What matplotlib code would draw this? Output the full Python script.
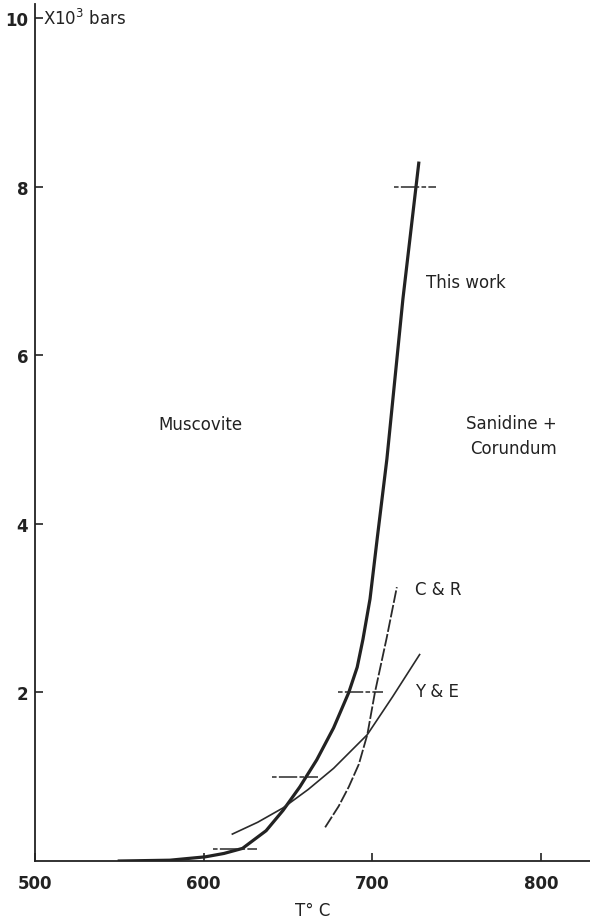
import numpy as np
import matplotlib
matplotlib.use("Agg")
import matplotlib.pyplot as plt

plt.rcParams['font.family'] = ['DejaVu Sans']

# curve "This work" (T in deg C, P in 10^3 bars)
this_T = [549, 580, 601, 612, 623, 637, 647, 657, 667, 677, 686, 691, 694.4, 698.6, 703, 708.6, 718.1, 727.6]
this_P = [0.0, 0.01, 0.05, 0.09, 0.15, 0.36, 0.60, 0.88, 1.20, 1.58, 2.00, 2.30, 2.63, 3.11, 3.85, 4.77, 6.67, 8.30]

# Y & E curve
ye_T = [617, 632, 647, 662, 677, 697, 712, 728]
ye_P = [0.32, 0.46, 0.63, 0.85, 1.10, 1.50, 1.95, 2.45]

# C & R curve (dashed)
cr_T = [672, 680, 686, 692, 697, 701.5, 708.5, 714.5]
cr_P = [0.40, 0.65, 0.88, 1.15, 1.50, 2.00, 2.65, 3.25]

# horizontal error bars on This work
bar_P = [0.14, 1.0, 2.0, 8.0]
bar_lo = [605.5, 640.5, 679.5, 713]
bar_hi = [631.5, 667.5, 706.5, 738]

fig = plt.figure(figsize=(5.9, 9.2), dpi=100)
ax = fig.add_axes([0.0593, 0.063, 0.9407, 0.9316])

ax.plot(this_T, this_P, color='#222222', lw=2.3, solid_capstyle='butt',
        solid_joinstyle='round')
ax.plot(ye_T, ye_P, color='#2a2a2a', lw=1.2)
ax.plot(cr_T, cr_P, color='#2a2a2a', lw=1.3, linestyle=(0, (7, 1.2)))
ax.hlines(bar_P, bar_lo, bar_hi, color='#2a2a2a', lw=1.1,
          linestyle=(0, (3, 1.5, 12, 1.5)))

txt = dict(color='#222222', fontsize=12)
ax.text(755.5, 6.87, "This work", ha='center', va='center', **txt)
ax.text(597.8, 5.18, "Muscovite", ha='center', va='center', **txt)
ax.text(809.4, 5.05, "Sanidine +\nCorundum", ha='right', va='center',
        linespacing=1.5, **txt)
ax.text(725.2, 3.23, "C & R", ha='left', va='center', **txt)
ax.text(725.2, 2.02, "Y & E", ha='left', va='center', **txt)
ax.text(505, 10.0, "X10$^3$ bars", ha='left', va='center', **txt)

ax.set_xlim(500, 829)
ax.set_ylim(0, 10.17)
ax.set_xticks([500, 600, 700, 800])
ax.set_yticks([2, 4, 6, 8, 10])
ax.tick_params(direction='in', length=6, width=1.2, colors='#222222',
               labelsize=12)
ax.tick_params(axis='x', pad=9)
ax.tick_params(axis='y', pad=5)
for lab in ax.get_xticklabels() + ax.get_yticklabels():
    lab.set_fontweight('bold')
ax.set_xlabel("T° C", fontsize=12, color='#222222', labelpad=7)

for s in ['top', 'right']:
    ax.spines[s].set_visible(False)
for s in ['left', 'bottom']:
    ax.spines[s].set_linewidth(1.3)
    ax.spines[s].set_color('#222222')

fig.savefig("out.png", dpi=100)
